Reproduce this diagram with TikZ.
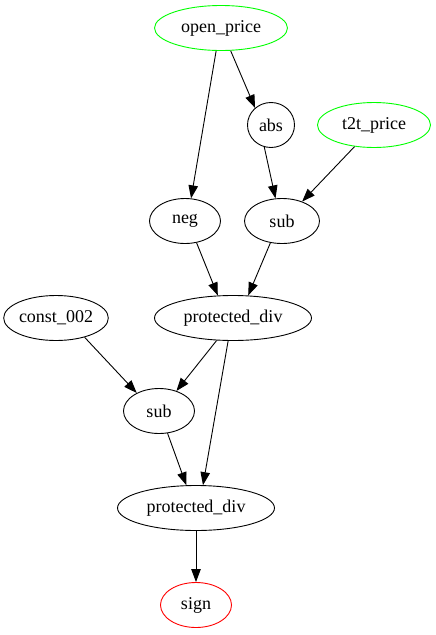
\documentclass[tikz,border=0pt]{standalone}
\usepackage{fontspec}
\setmainfont{Liberation Serif}
\usepackage{xcolor}
\definecolor{termgreen}{RGB}{0,255,0}
\definecolor{rootred}{RGB}{255,0,0}
\usetikzlibrary{arrows.meta, shapes.geometric}

\begin{document}
\begin{tikzpicture}[
            x=1pt, y=-1pt,
            line join=bevel,
            opnode/.style={shape=ellipse, draw=black, line width=0.9pt, inner sep=0pt,
                           minimum height=45pt, font=\fontsize{18}{21}\selectfont},
            termnode/.style={opnode, draw=termgreen},
            rootnode/.style={opnode, draw=rootred},
            edge/.style={-{Triangle[length=13pt, width=9.5pt]}, line width=0.9pt}
            ]
    \useasboundingbox (0,0) rectangle (436,635);

            % Inputs
            \node[termnode, minimum width=133pt] (openprice) at (221, 28) {open\_price};
            \node[termnode, minimum width=113pt] (ttprice) at (374, 125) {t2t\_price};
            \node[opnode, minimum width=101pt] (constb) at (56, 318) {const\_002};

            % Operators
            \node[opnode, minimum width=47pt] (absop) at (271, 125) {abs};
            \node[opnode, minimum width=71pt] (negop) at (185, 221) {neg};
            \node[opnode, minimum width=75pt] (subtop) at (282, 221) {sub};
            \node[opnode, minimum width=157pt] (pdivtop) at (233, 318) {protected\_div};
            \node[opnode, minimum width=71pt] (subbot) at (159, 411) {sub};
            \node[opnode, minimum width=157pt] (pdivbot) at (196, 508) {protected\_div};

            % Output
            \node[rootnode, minimum width=71pt] (signop) at (196, 605) {sign};

            % Edges
            \draw[edge] (openprice.-67) -- (absop.133);
            \draw[edge] (openprice.-102) -- (negop.75);
            \draw[edge] (absop.-107) -- (subtop.106);
            \draw[edge] (ttprice.-132) -- (subtop.44);
            \draw[edge] (negop.-62) -- (pdivtop.124);
            \draw[edge] (subtop.-118) -- (pdivtop.56);
            \draw[edge] (constb.-34) -- (subbot.141);
            \draw[edge] (pdivtop.-126) -- (subbot.49);
            \draw[edge] (pdivtop.-102) -- (pdivbot.73);
            \draw[edge] (subbot.-69) -- (pdivbot.113);
            \draw[edge] (pdivbot.south) -- (signop.north);
\end{tikzpicture}
\end{document}
